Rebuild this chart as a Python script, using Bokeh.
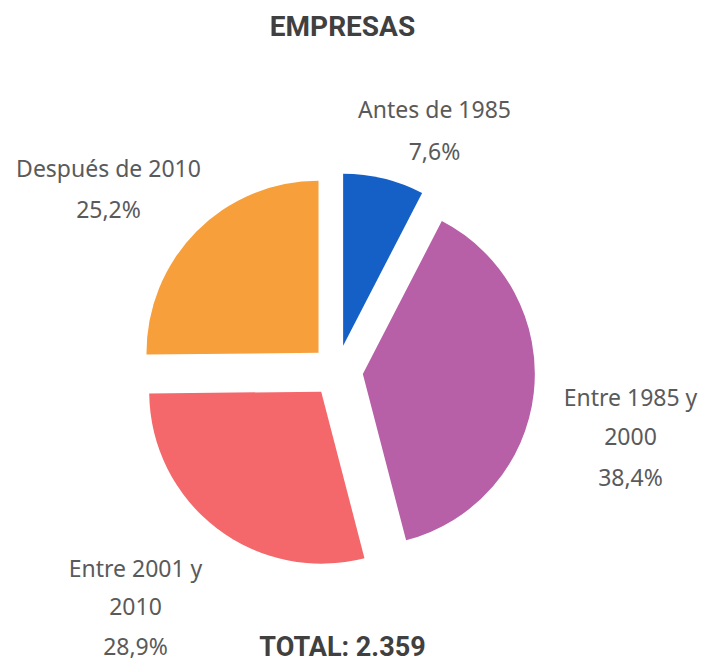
import math
from bokeh.plotting import figure
from bokeh.models import Range1d, ColumnDataSource
from bokeh.core.properties import value
from bokeh.embed import file_html
from bokeh.resources import INLINE

# ---- data ----
title_text = "EMPRESAS"
categories = ["Antes de 1985", "Entre 1985 y\n2000", "Entre 2001 y\n2010", "Después de 2010"]
shares = [7.6, 38.4, 28.9, 25.2]
total_companies = 2359

# ---- styles / layout ----
colors = ["#1560C6", "#B760A8", "#F4676B", "#F79F3A"]
W, H = 702, 662
cx_px, cy_px = 336.5, 370.5
radius = 172
explode = 26
# label anchor (first line centre) in page pixels, and line gap
label_anchor = [(434, 108), (630, 396), (135, 567), (108, 167)]
label_gap = [42, 40, 39, 41]
label_color = "#5A5A5A"
label_font = "Noto Sans"
label_size = "23px"
title_color = "#404040"


def Y(y_px):
    return H - y_px


p = figure(width=W, height=H, output_backend="svg", toolbar_location=None,
           x_range=Range1d(0, W), y_range=Range1d(0, H),
           min_border=0, outline_line_color=None, background_fill_color="white",
           border_fill_color="white")
p.axis.visible = False
p.grid.visible = False

tot = sum(shares)
xs, ys, sa, ea = [], [], [], []
acc = 0.0
for v in shares:
    t0 = acc / tot * 360.0
    acc += v
    t1 = acc / tot * 360.0
    tm = math.radians((t0 + t1) / 2)
    xs.append(cx_px + explode * math.sin(tm))
    ys.append(Y(cy_px) + explode * math.cos(tm))
    sa.append(math.radians(90 - t0))
    ea.append(math.radians(90 - t1))

src = ColumnDataSource(dict(x=xs, y=ys, sa=sa, ea=ea, color=colors))
p.wedge(x="x", y="y", radius=radius, start_angle="sa", end_angle="ea",
        direction="clock", fill_color="color",
        line_color=None, source=src)

# labels
tx, ty, tt = [], [], []
for cat, v, (ax, ay), gap in zip(categories, shares, label_anchor, label_gap):
    lines = cat.split("\n") + [f"{v:.1f}".replace(".", ",") + "%"]
    for i, ln in enumerate(lines):
        tx.append(ax)
        ty.append(Y(ay + i * gap))
        tt.append(ln)
p.text(x=tx, y=ty, text=tt, text_align="center", text_baseline="middle",
       text_font=value(label_font), text_font_size=label_size, text_color=label_color)

# title and total
p.text(x=[342], y=[Y(26)], text=[title_text], text_align="center", text_baseline="middle",
       text_font=value("Roboto"), text_font_style="bold", text_font_size="28px",
       text_color=title_color)
total_str = "TOTAL: " + f"{total_companies:,}".replace(",", ".")
p.text(x=[342], y=[Y(646)], text=[total_str], text_align="center", text_baseline="middle",
       text_font=value("Roboto"), text_font_style="bold", text_font_size="27px",
       text_color=title_color)

open("out.html", "w").write(file_html(p, INLINE))
